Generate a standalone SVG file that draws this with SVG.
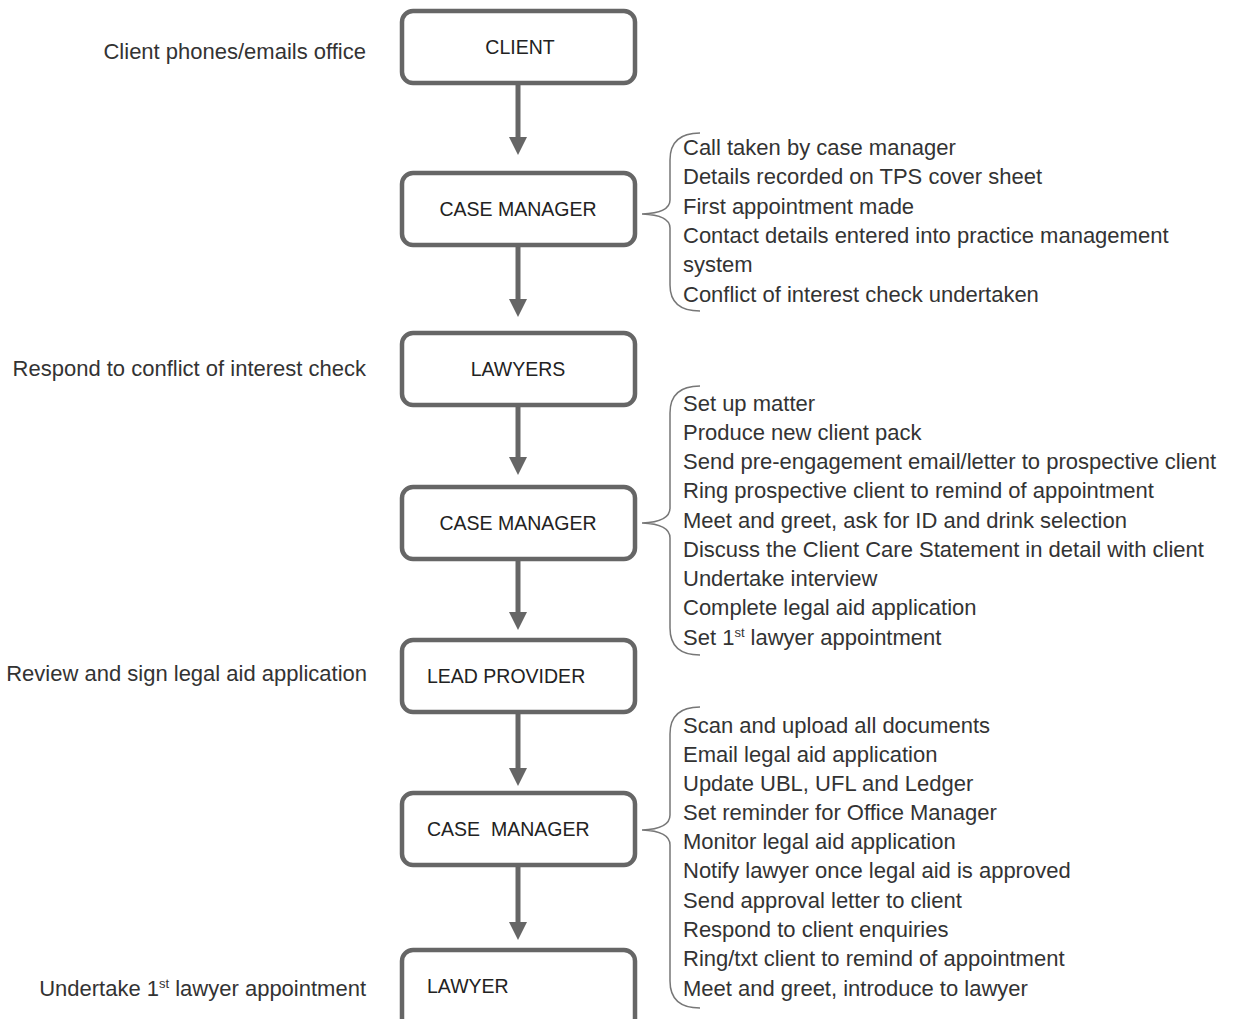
<svg xmlns="http://www.w3.org/2000/svg" width="1236" height="1019" viewBox="0 0 1236 1019">
<defs>
<style>
.box{fill:#fff;stroke:#666;stroke-width:4.5}
.bl{font-family:"Liberation Sans",Arial,sans-serif;font-size:19.5px;fill:#222}
.t{font-family:"Liberation Sans",Arial,sans-serif;font-size:22px;fill:#333}
.r{text-anchor:end}
.m{text-anchor:middle}
.br{fill:none;stroke:#777;stroke-width:1.5}
.ar{stroke:#666;stroke-width:5;fill:none}
.sup{font-size:13px}
</style>
<path id="arrowhead" d="M-9,0 L9,0 L0,18 z" fill="#666"/>
</defs>
<rect width="1236" height="1019" fill="#fff"/>
<g id="connectors">
<line class="ar" x1="518" y1="84" x2="518" y2="140"/><use href="#arrowhead" x="518" y="137"/>
<line class="ar" x1="518" y1="246" x2="518" y2="302"/><use href="#arrowhead" x="518" y="299"/>
<line class="ar" x1="518" y1="406" x2="518" y2="460"/><use href="#arrowhead" x="518" y="457"/>
<line class="ar" x1="518" y1="560" x2="518" y2="615"/><use href="#arrowhead" x="518" y="612"/>
<line class="ar" x1="518" y1="713" x2="518" y2="771"/><use href="#arrowhead" x="518" y="768"/>
<line class="ar" x1="518" y1="866" x2="518" y2="925"/><use href="#arrowhead" x="518" y="922"/>
</g>
<g id="n1"><rect class="box" x="402" y="11" width="233" height="72" rx="11"/><text class="bl m" x="520" y="54">CLIENT</text></g>
<g id="n2"><rect class="box" x="402" y="173" width="233" height="72" rx="11"/><text class="bl m" x="518" y="216">CASE MANAGER</text></g>
<g id="n3"><rect class="box" x="402" y="333" width="233" height="72" rx="11"/><text class="bl m" x="518" y="376">LAWYERS</text></g>
<g id="n4"><rect class="box" x="402" y="487" width="233" height="72" rx="11"/><text class="bl m" x="518" y="530">CASE MANAGER</text></g>
<g id="n5"><rect class="box" x="402" y="640" width="233" height="72" rx="11"/><text class="bl" x="427" y="683">LEAD PROVIDER</text></g>
<g id="n6"><rect class="box" x="402" y="793" width="233" height="72" rx="11"/><text class="bl" x="427" y="836" xml:space="preserve">CASE  MANAGER</text></g>
<g id="n7"><rect class="box" x="402" y="950" width="233" height="80" rx="11"/><text class="bl" x="427" y="993">LAWYER</text></g>
<g id="left-notes">
<text class="t r" x="366" y="59">Client phones/emails office</text>
<text class="t r" x="366" y="376">Respond to conflict of interest check</text>
<text class="t r" x="367" y="681">Review and sign legal aid application</text>
<text class="t r" x="366" y="996">Undertake 1<tspan class="sup" dy="-8">st</tspan><tspan dy="8"> lawyer appointment</tspan></text>
</g>
<g id="brace1">
<path class="br" d="M700,133 Q670,133 670,160 L670,200 Q670,213 642,214 Q670,215 670,228 L670,285 Q670,311 700,311"/>
<text class="t" x="683" y="155">Call taken by case manager</text>
<text class="t" x="683" y="184">Details recorded on TPS cover sheet</text>
<text class="t" x="683" y="214">First appointment made</text>
<text class="t" x="683" y="243">Contact details entered into practice management</text>
<text class="t" x="683" y="272">system</text>
<text class="t" x="683" y="302">Conflict of interest check undertaken</text>
</g>
<g id="brace2">
<path class="br" d="M700,386 Q670,386 670,413 L670,508 Q670,522 642,523 Q670,524 670,538 L670,628 Q670,655 700,655"/>
<text class="t" x="683" y="411">Set up matter</text>
<text class="t" x="683" y="440">Produce new client pack</text>
<text class="t" x="683" y="469">Send pre-engagement email/letter to prospective client</text>
<text class="t" x="683" y="498">Ring prospective client to remind of appointment</text>
<text class="t" x="683" y="528">Meet and greet, ask for ID and drink selection</text>
<text class="t" x="683" y="557">Discuss the Client Care Statement in detail with client</text>
<text class="t" x="683" y="586">Undertake interview</text>
<text class="t" x="683" y="615">Complete legal aid application</text>
<text class="t" x="683" y="645">Set 1<tspan class="sup" dy="-8">st</tspan><tspan dy="8"> lawyer appointment</tspan></text>
</g>
<g id="brace3">
<path class="br" d="M700,707 Q670,707 670,734 L670,815 Q670,829 642,830 Q670,831 670,845 L670,981 Q670,1008 700,1008"/>
<text class="t" x="683" y="733">Scan and upload all documents</text>
<text class="t" x="683" y="762">Email legal aid application</text>
<text class="t" x="683" y="791">Update UBL, UFL and Ledger</text>
<text class="t" x="683" y="820">Set reminder for Office Manager</text>
<text class="t" x="683" y="849">Monitor legal aid application</text>
<text class="t" x="683" y="878">Notify lawyer once legal aid is approved</text>
<text class="t" x="683" y="908">Send approval letter to client</text>
<text class="t" x="683" y="937">Respond to client enquiries</text>
<text class="t" x="683" y="966">Ring/txt client to remind of appointment</text>
<text class="t" x="683" y="996">Meet and greet, introduce to lawyer</text>
</g>
</svg>
